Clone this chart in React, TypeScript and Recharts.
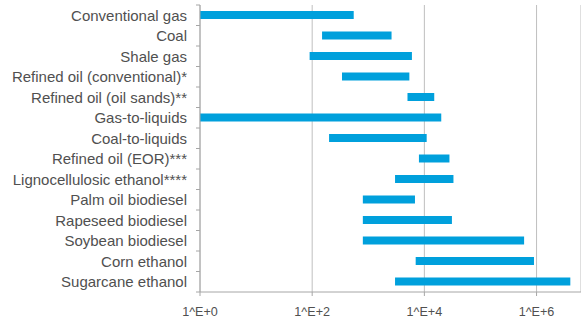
import React from 'react';
import { BarChart, Bar, XAxis, YAxis, CartesianGrid } from 'recharts';

const categories = [
  'Conventional gas',
  'Coal',
  'Shale gas',
  'Refined oil (conventional)*',
  'Refined oil (oil sands)**',
  'Gas-to-liquids',
  'Coal-to-liquids',
  'Refined oil (EOR)***',
  'Lignocellulosic ethanol****',
  'Palm oil biodiesel',
  'Rapeseed biodiesel',
  'Soybean biodiesel',
  'Corn ethanol',
  'Sugarcane ethanol',
];
const lowValues = [1, 150, 90, 340, 5000, 1, 200, 8000, 3000, 800, 800, 800, 7000, 3000];
const highValues = [550, 2600, 6000, 5400, 15000, 20000, 11000, 28000, 33000, 6800, 31000, 600000, 900000, 4000000];
const xTicks = [1, 100, 10000, 1000000];
const xTickLabels = ['1^E+0', '1^E+2', '1^E+4', '1^E+6'];

const data = categories.map((name, i) => ({ name, range: [lowValues[i], highValues[i]] }));

const W = 581;
const H = 322;
const TOP = 5;
const XAXIS_H = 30;
const BAND = (H - TOP - XAXIS_H) / categories.length;
const TEXT = '#505050';
const AXIS = '#a6a6a6';

const YTick = (props: any) => {
  const { x, y, payload, index } = props;
  const axisX = x + 13;
  return (
    <g>
      <text x={x} y={y} dy="0.36em" textAnchor="end" fill={TEXT} fontSize={15} fontFamily="Liberation Sans, Arial, sans-serif">
        {payload.value}
      </text>
      <line x1={axisX - 4} x2={axisX} y1={y - BAND / 2} y2={y - BAND / 2} stroke={AXIS} />
      {index === categories.length - 1 && (
        <line x1={axisX - 4} x2={axisX} y1={y + BAND / 2} y2={y + BAND / 2} stroke={AXIS} />
      )}
    </g>
  );
};

export default function App() {
  return (
    <div style={{ position: 'absolute', left: 0, top: 0, width: W, height: H, background: '#fff' }}>
      <BarChart
        width={W}
        height={H}
        data={data}
        layout="vertical"
        margin={{ top: TOP, right: 0, left: 0, bottom: 0 }}
        barCategoryGap={0}
      >
        <CartesianGrid horizontal={false} vertical={true} stroke="#bfbfbf" strokeWidth={1} />
        <XAxis
          type="number"
          scale="log"
          domain={[1, 6200000]}
          ticks={xTicks}
          allowDataOverflow
          height={XAXIS_H}
          tickSize={4}
          tickMargin={11}
          stroke={AXIS}
          tick={{ fill: TEXT, fontSize: 12.6, fontFamily: 'Liberation Sans, Arial, sans-serif' }}
          tickFormatter={(v: number) => xTickLabels[xTicks.indexOf(v)] ?? ''}
        />
        <YAxis
          type="category"
          dataKey="name"
          width={200}
          tickSize={4}
          tickMargin={9}
          tickLine={false}
          stroke={AXIS}
          interval={0}
          tick={<YTick />}
        />
        <Bar dataKey="range" fill="#00a0dc" barSize={8} isAnimationActive={false} />
      </BarChart>
    </div>
  );
}
